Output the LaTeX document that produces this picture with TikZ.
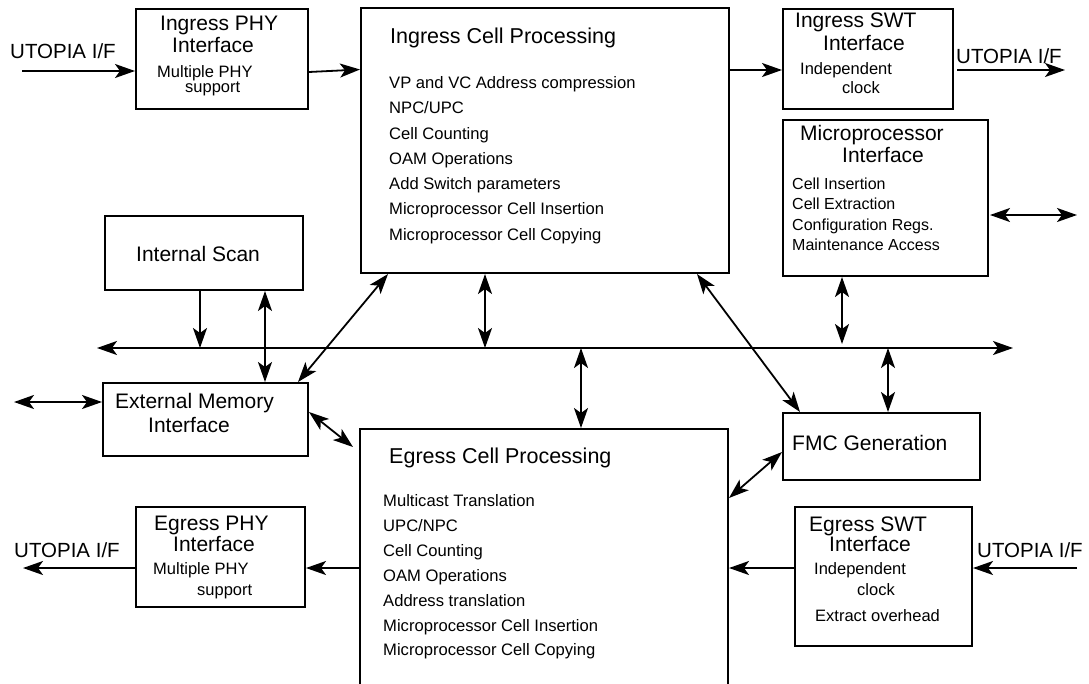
\documentclass[tikz,border=0pt]{standalone}
\usepackage{fontspec}
\setmainfont{Liberation Sans}
\usetikzlibrary{arrows.meta}
\begin{document}
\begin{tikzpicture}[x=1pt,y=-1pt,
  blk/.style={draw, line width=2pt, rectangle, inner sep=0pt, anchor=north west},
  ttl/.style={anchor=base west, inner sep=0pt, font=\fontsize{21}{25}\selectfont},
  big/.style={anchor=base west, inner sep=0pt, font=\fontsize{21.5}{25}\selectfont},
  uto/.style={anchor=base west, inner sep=0pt, font=\fontsize{20.5}{24}\selectfont},
  sub/.style={anchor=base west, inner sep=0pt, font=\fontsize{16.5}{20}\selectfont},
  itm/.style={anchor=base west, inner sep=0pt, font=\fontsize{16.6}{20}\selectfont},
  mit/.style={anchor=base west, inner sep=0pt, font=\fontsize{16}{20}\selectfont},
  conn/.style={line width=1.8pt},
  >={Stealth[length=20pt,width=14pt,inset=5pt]}]
\path[use as bounding box] (0,0) rectangle (1089,683);
\clip (0,0) rectangle (1089,683);

% boxes
\node[blk, minimum width=172pt, minimum height=100pt] (ipi) at (135,8) {};
\node[blk, minimum width=368pt, minimum height=265pt] (icp) at (360,7) {};
\node[blk, minimum width=170pt, minimum height=100pt] (isw) at (782,8) {};
\node[blk, minimum width=205pt, minimum height=156pt] (mpi) at (782,119) {};
\node[blk, minimum width=198pt, minimum height=74pt] (isc) at (104,215) {};
\node[blk, minimum width=205pt, minimum height=73pt] (emi) at (102,382) {};
\node[blk, minimum width=368pt, minimum height=300pt] (ecp) at (359,428) {};
\node[blk, minimum width=197pt, minimum height=67pt] (fmc) at (782,412) {};
\node[blk, minimum width=169pt, minimum height=100pt] (epi) at (135,506) {};
\node[blk, minimum width=177pt, minimum height=139pt] (esw) at (794,506) {};

% texts
\node[uto] (u1) at (10,58) {UTOPIA I/F};
\node[uto] (u2) at (956,63) {UTOPIA I/F};
\node[uto] (u3) at (14,557) {UTOPIA I/F};
\node[uto] (u4) at (977,557) {UTOPIA I/F};

\node[ttl] (t1) at (160,30) {Ingress PHY};
\node[ttl] (t2) at (172,52) {Interface};
\node[sub] (s1) at (157,77) {Multiple PHY};
\node[sub] (s2) at (185,92) {support};

\node[ttl] (t3) at (795,27) {Ingress SWT};
\node[ttl] (t4) at (823,50) {Interface};
\node[sub] (s3) at (800,74) {Independent};
\node[sub] (s4) at (842,93) {clock};

\node[ttl] (t5) at (800,140) {Microprocessor};
\node[ttl] (t6) at (842,162) {Interface};
\foreach \t [count=\i] in {Cell Insertion, Cell Extraction, Configuration Regs., Maintenance Access}
  \node[mit] (m\i) at (792,{189+20.5*(\i-1)}) {\t};

\node[ttl] (t7) at (136,261) {Internal Scan};
\node[ttl] (t8) at (115,408) {External Memory};
\node[ttl] (t9) at (148,432) {Interface};
\node[ttl] (t10) at (792,450) {FMC Generation};

\node[ttl] (t11) at (154,530) {Egress PHY};
\node[ttl] (t12) at (173,551) {Interface};
\node[sub] (s5) at (153,574) {Multiple PHY};
\node[sub] (s6) at (197,595) {support};

\node[ttl] (t13) at (809,531) {Egress SWT};
\node[ttl] (t14) at (829,551) {Interface};
\node[sub] (s7) at (814,574) {Independent};
\node[sub] (s8) at (857,595) {clock};
\node[sub] (s9) at (815,621) {Extract overhead};

\node[big] (t15) at (390,43) {Ingress Cell Processing};
\foreach \t [count=\i] in {VP and VC Address compression, NPC/UPC, Cell Counting, OAM Operations, Add Switch parameters, Microprocessor Cell Insertion, Microprocessor Cell Copying}
  \node[itm] (ia\i) at (389,{88.5+25.25*(\i-1)}) {\t};

\node[big] (t16) at (389,463) {Egress Cell Processing};
\foreach \t [count=\i] in {Multicast Translation, UPC/NPC, Cell Counting, OAM Operations, Address translation, Microprocessor Cell Insertion, Microprocessor Cell Copying}
  \node[itm] (ea\i) at (383,{506.5+24.9*(\i-1)}) {\t};

% coordinates
\coordinate (uL1) at (22,71);
\coordinate (uR1) at (1065,70);
\coordinate (mpR) at (1077,215);
\coordinate (emL) at (14,402);
\coordinate (uL2) at (23,568);
\coordinate (uR2) at (1077,568);
\coordinate (busL) at (97,348);
\coordinate (busR) at (1013,348);
\coordinate (b1) at (200,348);
\coordinate (b2) at (485,348);
\coordinate (b3) at (842,344);
\coordinate (b4) at (888,348);
\coordinate (b5) at (581,348);

% bus
\draw[conn,<->] (busL) -- (busR);

% connectors
\draw[conn,->] (uL1) -- (uL1 -| ipi.west);
\draw[conn,->] (ipi.east |- 0,72) -- (icp.west |- 0,69.5);
\draw[conn,->] (icp.east |- 0,70) -- (isw.west |- 0,70);
\draw[conn,->] ([xshift=3pt]isw.east |- uR1) -- (uR1);
\draw[conn,<->] ([xshift=1pt]mpi.east |- mpR) -- (mpR);
\draw[conn,->] (isc.south -| b1) -- (b1);
\draw[conn,<->] (isc.south -| 265,0) -- (emi.north -| 265,0);
\draw[conn,<->] (emi.north -| 298,0) -- (icp.south -| 388,0);
\draw[conn,<->] (icp.south -| b2) -- (b2);
\draw[conn,<->] (icp.south -| 697,0) -- (fmc.north -| 800,0);
\draw[conn,<->] (mpi.south -| b3) -- (b3);
\draw[conn,<->] (b4) -- (fmc.north -| b4);
\draw[conn,<->] (b5) -- (ecp.north -| b5);
\draw[conn,<->] (emL) -- (emL -| emi.west);
\draw[conn,<->] (emi.east |- 0,412) -- ([xshift=-6pt]ecp.west |- 0,447);
\draw[conn,<->] (ecp.east |- 0,498) -- (fmc.west |- 0,452);
\draw[conn,->] (ecp.west |- 0,568) -- (epi.east |- 0,568);
\draw[conn,->] (epi.west |- uL2) -- (uL2);
\draw[conn,->] (esw.west |- 0,568) -- (ecp.east |- 0,568);
\draw[conn,->] (uR2) -- (uR2 -| esw.east);
\end{tikzpicture}
\end{document}
